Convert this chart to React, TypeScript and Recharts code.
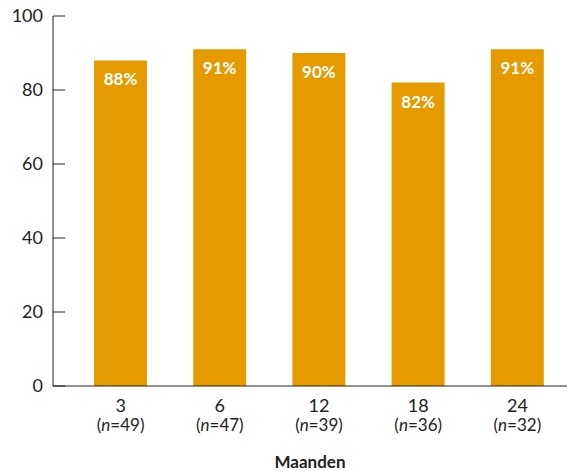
import { Bar, BarChart, LabelList, XAxis, YAxis } from "recharts";

const months = ["3", "6", "12", "18", "24"];
const counts = [49, 47, 39, 36, 32];
const percentages = [88, 91, 90, 82, 91];
const yTicks = [0, 20, 40, 60, 80, 100];

const data = months.map((m, i) => ({ month: m, n: counts[i], value: percentages[i] }));

const MonthTick = (props: any) => {
  const { x, y, payload, index } = props;
  return (
    <g transform={`translate(${x},${y})`}>
      <text x={0} y={18} textAnchor="middle" fill="#222" fontSize={18}>
        {payload.value}
      </text>
      <text x={0} y={37} textAnchor="middle" fill="#222" fontSize={17}>
        (<tspan fontStyle="italic">n</tspan>={data[index].n})
      </text>
    </g>
  );
};

// tick mark points into the plot, label sits left of the axis
const ValueTick = (props: any) => {
  const { x, y, payload } = props;
  return (
    <g>
      <line x1={x + 10} x2={x + 22} y1={y} y2={y} stroke="#222" />
      <text x={x} y={y} dy={6} textAnchor="end" fill="#222" fontSize={18}>
        {payload.value}
      </text>
    </g>
  );
};

const App = () => {
  return (
    <div style={{ position: "absolute", left: 0, top: 0, fontFamily: "Lato" }}>
      <BarChart
        width={570}
        height={471}
        data={data}
        margin={{ top: 16, right: 3, left: 0, bottom: 35 }}
        barCategoryGap={23}
      >
        <XAxis
          dataKey="month"
          tick={<MonthTick />}
          tickLine={false}
          axisLine={{ stroke: "#222" }}
          padding={{ left: 18, right: 0 }}
          height={50}
          interval={0}
        />
        <YAxis
          domain={[0, 100]}
          ticks={yTicks}
          width={53}
          tickSize={0}
          tickMargin={10}
          tickLine={false}
          axisLine={{ stroke: "#222" }}
          tick={<ValueTick />}
        />
        <Bar dataKey="value" fill="#E59A00" isAnimationActive={false}>
          <LabelList
            dataKey="value"
            position="insideTop"
            offset={13}
            formatter={(v: any) => `${v}%`}
            fill="#fff"
            fontSize={17}
            fontWeight="bold"
          />
        </Bar>
      </BarChart>
      <div
        style={{
          position: "absolute",
          left: 53,
          width: 514,
          top: 451,
          textAlign: "center",
          fontWeight: "bold",
          fontSize: 17,
          color: "#222",
        }}
      >
        Maanden
      </div>
    </div>
  );
};

export default App;
